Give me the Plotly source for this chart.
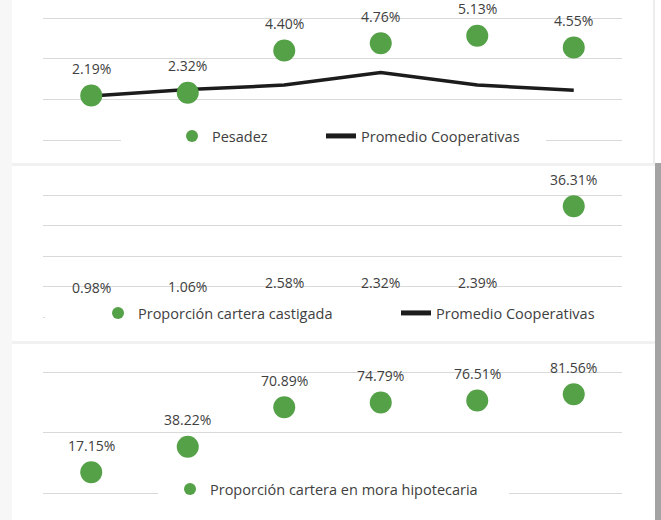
import plotly.graph_objects as go

W, H = 661, 520

categories = ["P1", "P2", "P3", "P4", "P5", "P6"]

pesadez = [2.19, 2.32, 4.40, 4.76, 5.13, 4.55]
promedio_pesadez = [2.16, 2.48, 2.70, 3.32, 2.70, 2.45]

castigada = [0.98, 1.06, 2.58, 2.32, 2.39, 36.31]
promedio_castigada = [1.4, 1.5, 1.7, 1.8, 1.6, 1.5]

mora_hipotecaria = [17.15, 38.22, 70.89, 74.79, 76.51, 81.56]

GREEN = "#54A147"
BLACK = "#1c1c1c"
TEXT = "#404040"
GRID = "#d9d9d9"
FONT = "Open Sans"


def px_x(p):
    return p / W


def px_y(p):
    return 1 - p / H


fig = go.Figure()

# Panel 1
fig.add_trace(go.Scatter(x=categories, y=promedio_pesadez, mode="lines", name="Promedio Cooperativas",
                         line=dict(color=BLACK, width=3.5), xaxis="x", yaxis="y", legend="legend2"))
fig.add_trace(go.Scatter(x=categories, y=pesadez, mode="markers", name="Pesadez",
                         marker=dict(color=GREEN, size=22), xaxis="x", yaxis="y", legend="legend"))
# Panel 2
fig.add_trace(go.Scatter(x=categories, y=promedio_castigada, mode="lines", name="Promedio Cooperativas",
                         line=dict(color=BLACK, width=3.5), xaxis="x2", yaxis="y2", legend="legend4"))
fig.add_trace(go.Scatter(x=categories, y=castigada, mode="markers", name="Proporción cartera castigada",
                         marker=dict(color=GREEN, size=22), xaxis="x2", yaxis="y2", legend="legend3"))
# Panel 3
fig.add_trace(go.Scatter(x=categories, y=mora_hipotecaria, mode="markers",
                         name="Proporción cartera en mora hipotecaria",
                         marker=dict(color=GREEN, size=22), xaxis="x3", yaxis="y3", legend="legend5"))

annotations = []
for xa, ya, vals in (("x", "y", pesadez), ("x2", "y2", castigada), ("x3", "y3", mora_hipotecaria)):
    for i, v in enumerate(vals):
        annotations.append(dict(x=i, y=v, xref=xa, yref=ya, text=f"{v:.2f}%", showarrow=False,
                                yshift=27, borderpad=0,
                                font=dict(family=FONT, size=14, color=TEXT)))

xdom = [px_x(43), px_x(622)]
xcommon = dict(domain=xdom, range=[-0.5, 5.5], type="category", showgrid=False, showticklabels=False,
               zeroline=False, showline=False, ticks="", fixedrange=True)
ycommon = dict(showticklabels=False, showline=False, ticks="", gridcolor=GRID, gridwidth=1,
               zeroline=True, zerolinecolor=GRID, zerolinewidth=1, fixedrange=True)


def ydomain(zero_px, top_px, top_val, pad=1.01):
    # extend range slightly so the top gridline is drawn
    top = zero_px - (zero_px - top_px) * pad
    return [px_y(zero_px), px_y(top)], [0, top_val * pad]


d1, r1 = ydomain(140, 18, 6)
d2, r2 = ydomain(317, 195, 40)
d3, r3 = ydomain(493, 372, 100)

shapes = [
    # page decorations
    dict(type="rect", xref="paper", yref="paper", x0=0, x1=px_x(12), y0=0, y1=1,
         fillcolor="#f7f7f7", line_width=0, layer="below"),
    dict(type="rect", xref="paper", yref="paper", x0=px_x(12), x1=px_x(655), y0=px_y(166), y1=px_y(163),
         fillcolor="#f1f1f1", line_width=0, layer="below"),
    dict(type="rect", xref="paper", yref="paper", x0=px_x(12), x1=px_x(655), y0=px_y(344), y1=px_y(341),
         fillcolor="#f1f1f1", line_width=0, layer="below"),
    dict(type="rect", xref="paper", yref="paper", x0=px_x(653), x1=px_x(655), y0=px_y(163), y1=1,
         fillcolor="#ececec", line_width=0, layer="below"),
    dict(type="rect", xref="paper", yref="paper", x0=px_x(655), x1=1, y0=0, y1=px_y(163),
         fillcolor="#a3a3a3", line_width=0, layer="below"),
    # legend backgrounds
    dict(type="rect", xref="paper", yref="paper", x0=px_x(121), x1=px_x(546), y0=px_y(152), y1=px_y(124),
         fillcolor="white", line_width=0, layer="above"),
    dict(type="rect", xref="paper", yref="paper", x0=px_x(45), x1=px_x(623), y0=px_y(332), y1=px_y(296),
         fillcolor="white", line_width=0, layer="above"),
    dict(type="rect", xref="paper", yref="paper", x0=px_x(158), x1=px_x(509), y0=px_y(505), y1=px_y(478),
         fillcolor="white", line_width=0, layer="above"),
]

legfont = dict(family=FONT, size=14.5, color=TEXT)
legcommon = dict(orientation="h", xanchor="left", yanchor="middle", bgcolor="rgba(0,0,0,0)",
                 borderwidth=0, font=legfont, itemsizing="constant")

fig.update_layout(
    width=W, height=H,
    margin=dict(l=0, r=0, t=0, b=0),
    paper_bgcolor="white", plot_bgcolor="rgba(0,0,0,0)",
    font=dict(family=FONT, color=TEXT),
    xaxis=dict(**xcommon, anchor="y"),
    xaxis2=dict(**xcommon, anchor="y2"),
    xaxis3=dict(**xcommon, anchor="y3"),
    yaxis=dict(**ycommon, domain=d1, range=r1, dtick=2, anchor="x"),
    yaxis2=dict(**ycommon, domain=d2, range=r2, dtick=10, anchor="x2"),
    yaxis3=dict(**ycommon, domain=d3, range=r3, dtick=50, anchor="x3"),
    legend=dict(**legcommon, x=px_x(172), y=px_y(136)),
    legend2=dict(**legcommon, x=px_x(321), y=px_y(136)),
    legend3=dict(**legcommon, x=px_x(98), y=px_y(313)),
    legend4=dict(**legcommon, x=px_x(396), y=px_y(313)),
    legend5=dict(**legcommon, x=px_x(170), y=px_y(489)),
    annotations=annotations,
    shapes=shapes,
    showlegend=True,
)

fig.write_html("out.html")
